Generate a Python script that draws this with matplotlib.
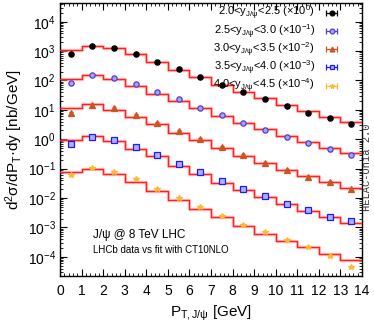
import numpy as np
import matplotlib
matplotlib.use("Agg")
import matplotlib.pyplot as plt
from matplotlib.ticker import MultipleLocator, LogLocator, NullFormatter
from matplotlib.lines import Line2D
from matplotlib.collections import LineCollection
from matplotlib.container import ErrorbarContainer

plt.rcParams['font.family'] = ['Liberation Sans', 'DejaVu Sans']
plt.rcParams['mathtext.fontset'] = 'custom'
plt.rcParams['mathtext.rm'] = 'Liberation Sans'
plt.rcParams['mathtext.it'] = 'Liberation Sans'

pt_edges = list(range(0, 15))
pt_centers = [0.5 + i for i in range(14)]

labels = [
    r"2.0<y$_{\rm J/\psi}$<2.5 (×10$^{0}$)",
    r"2.5<y$_{\rm J/\psi}$<3.0 (×10$^{-1}$)",
    r"3.0<y$_{\rm J/\psi}$<3.5 (×10$^{-2}$)",
    r"3.5<y$_{\rm J/\psi}$<4.0 (×10$^{-3}$)",
    r"4.0<y$_{\rm J/\psi}$<4.5 (×10$^{-4}$)",
]

# data points (already multiplied by the scale factor in the legend)
data_y1 = [780, 1500, 1300, 790, 440, 240, 129, 69, 41, 23, 14, 8.0, 5.4, 3.4]
data_y2 = [80, 150, 122, 76, 42, 22.6, 11.8, 6.6, 3.6, 2.0, 1.2, 0.74, 0.45, 0.30]
data_y3 = [7.6, 14.5, 11.3, 6.9, 3.7, 1.9, 1.0, 0.54, 0.30, 0.16, 0.091, 0.054, 0.035, 0.021]
data_y4 = [0.69, 1.23, 0.95, 0.56, 0.29, 0.145, 0.076, 0.039, 0.020, 0.0115, 0.0065, 0.0040, 0.0023, 0.0016]
data_y5 = [0.062, 0.107, 0.076, 0.044, 0.021, 0.0098, 0.0050, 0.0025, 0.0012, 0.00069, 0.00036, 0.00021, 0.000105, 0.000045]

# fit histograms
fit_y1 = [1100, 1500, 1230, 770, 440, 230, 130, 70, 42, 24.6, 14.8, 9.1, 5.9, 4.0]
fit_y2 = [110, 150, 115, 66, 36, 20, 11.2, 6.2, 3.5, 2.2, 1.3, 0.83, 0.52, 0.33]
fit_y3 = [11.2, 15.4, 10.2, 5.9, 3.2, 1.7, 0.93, 0.49, 0.28, 0.15, 0.091, 0.056, 0.035, 0.022]
fit_y4 = [0.95, 1.3, 0.85, 0.48, 0.26, 0.12, 0.065, 0.033, 0.019, 0.0107, 0.0063, 0.0037, 0.0022, 0.0014]
fit_y5 = [0.079, 0.095, 0.066, 0.036, 0.018, 0.0087, 0.0043, 0.0022, 0.00114, 0.0006, 0.00035, 0.00021, 0.000127, 0.000076]

data_sets = [data_y1, data_y2, data_y3, data_y4, data_y5]
fit_sets = [fit_y1, fit_y2, fit_y3, fit_y4, fit_y5]
colors = ['#000000', '#5040d0', '#cc5520', '#1a1aff', '#ffb833']
markers = ['o', 'o', '^', 's', '*']
mfc = ['#000000', '#a8a0f0', '#cc5520', '#b0b0ff', '#ffb833']

fig = plt.figure(figsize=(3.74, 3.22), dpi=100)
ax = fig.add_axes([0.1604, 0.143, 0.8076, 0.848])

handles = []
for d, f, c, m, fc in zip(data_sets, fit_sets, colors, markers, mfc):
    fy = list(f) + [f[-1]]
    ax.step(pt_edges, fy, where='post', color='#ff9a9a', lw=2.4, alpha=0.55, zorder=2)
    ax.step(pt_edges, fy, where='post', color='#ff2020', lw=1.0, zorder=3)
    d = np.array(d)
    err = d * 0.08
    ax.errorbar(pt_centers, d, yerr=err, fmt=m, color=c, mfc=fc, mec=c,
                ms=3.8, mew=0.9, elinewidth=0.8, capsize=1.5, zorder=4)
    # legend proxy: horizontal error bar with marker
    ln = Line2D([], [], marker=m, color=c, mfc=fc, mec=c, ls='none', ms=3.5, mew=0.9)
    cap = Line2D([], [], marker='|', color=c, ls='none', ms=5, mew=0.9)
    bar = LineCollection([], colors=c, linewidths=0.9)
    handles.append(ErrorbarContainer((ln, (cap, cap), (bar,)), has_xerr=True, has_yerr=False))

ax.set_yscale('log')
ax.set_xlim(0, 14)
ax.set_ylim(10**-4.65, 10**4.64)

ax.xaxis.set_major_locator(MultipleLocator(1))
ax.xaxis.set_minor_locator(MultipleLocator(0.2))
ax.yaxis.set_major_locator(LogLocator(base=10, numticks=20))
ax.yaxis.set_minor_locator(LogLocator(base=10, subs=np.arange(2, 10), numticks=20))
ax.yaxis.set_minor_formatter(NullFormatter())
ax.tick_params(which='both', direction='in', top=True, right=True, labelsize=10)
ax.tick_params(which='major', length=5, width=0.8)
ax.tick_params(which='minor', length=2.5, width=0.6)
ax.tick_params(axis='x', pad=6)
ax.tick_params(axis='y', pad=3)

ax.set_xlabel(r"P$_{\rm T,J/\psi}$ [GeV]", fontsize=11, labelpad=4)
ax.set_ylabel(r"d$^2$σ/dP$_{\rm T}$·dy [nb/GeV]", fontsize=11, labelpad=2)

leg = ax.legend(handles, labels, loc='upper right', bbox_to_anchor=(0.936, 0.995),
                fontsize=8, frameon=False,
                markerfirst=False, handlelength=2.0, handletextpad=0.5,
                labelspacing=0.0, borderaxespad=0.0, borderpad=0.0)

ax.text(0.11, 0.15, r"J/ψ @ 8 TeV LHC", transform=ax.transAxes, fontsize=8.5, va='center')
ax.text(0.11, 0.095, "LHCb data vs fit with CT10NLO", transform=ax.transAxes, fontsize=7, va='center')

fig.text(0.982, 0.48, "HELAC-Onia 2.0", rotation=90, ha='center', va='center',
         fontsize=7.5, family=['Liberation Mono', 'DejaVu Sans Mono'], color='#333333')

for s in ax.spines.values():
    s.set_linewidth(1.0)

fig.savefig("out.png", dpi=100)
